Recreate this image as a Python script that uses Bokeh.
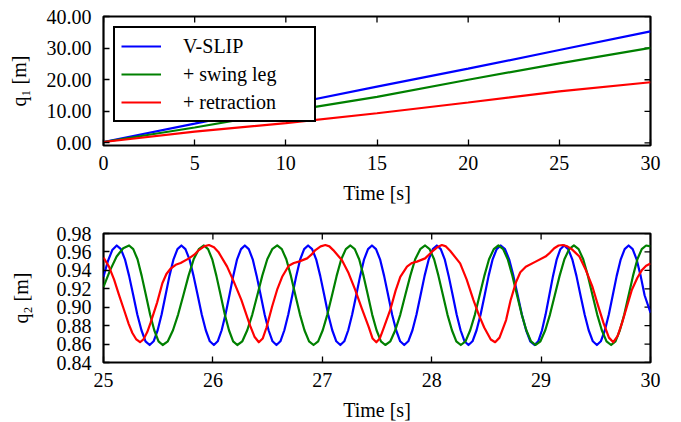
from math import pi
from bokeh.plotting import figure
from bokeh.models import FixedTicker, PrintfTickFormatter, Legend, LegendItem, Range1d
from bokeh.layouts import column
from bokeh.embed import file_html
from bokeh.resources import INLINE

# ---------------- data: top panel (q1 vs time) ----------------
t_top = [0, 5, 10, 15, 20, 25, 30]
q1_vslip = [0.3, 6.1, 12.0, 17.8, 23.5, 29.4, 35.3]
q1_swing = [0.3, 4.9, 9.9, 14.6, 20.0, 25.2, 30.1]
q1_retr = [0.3, 3.6, 6.3, 9.4, 12.8, 16.3, 19.2]

# ---------------- data: bottom panel (q2 vs time, 25..30 s) ----------------
t_vslip = [25.000, 25.040, 25.080, 25.121,
           25.159, 25.196, 25.234, 25.272, 25.309, 25.347, 25.384, 25.422,
           25.458, 25.495, 25.531, 25.567, 25.603, 25.640, 25.676, 25.712,
           25.749, 25.786, 25.823, 25.861, 25.898, 25.935, 25.972, 26.009,
           26.044, 26.080, 26.115, 26.151, 26.186, 26.221, 26.257, 26.292,
           26.328, 26.364, 26.400, 26.437, 26.473, 26.509, 26.545, 26.581,
           26.617, 26.653, 26.689, 26.726, 26.762, 26.798, 26.834, 26.870,
           26.907, 26.944, 26.981, 27.018, 27.054, 27.091, 27.128, 27.165,
           27.201, 27.237, 27.273, 27.310, 27.346, 27.382, 27.418, 27.454,
           27.491, 27.528, 27.565, 27.602, 27.638, 27.675, 27.712, 27.749,
           27.786, 27.824, 27.861, 27.898, 27.935, 27.973, 28.010, 28.047,
           28.083, 28.119, 28.155, 28.192, 28.228, 28.264, 28.300, 28.336,
           28.373, 28.410, 28.447, 28.484, 28.520, 28.557, 28.594, 28.631,
           28.670, 28.708, 28.747, 28.786, 28.824, 28.863, 28.901, 28.940,
           28.974, 29.008, 29.041, 29.075, 29.109, 29.143, 29.176, 29.210,
           29.248, 29.285, 29.323, 29.360, 29.398, 29.435, 29.473, 29.510,
           29.546, 29.583, 29.619, 29.655, 29.691, 29.728, 29.764, 29.800,
           29.837, 29.873, 29.910, 29.946, 30.000]
q2_vslip = [0.933, 0.950, 0.962, 0.967,
            0.963, 0.952, 0.934, 0.913, 0.892, 0.875, 0.863, 0.859,
            0.863, 0.875, 0.892, 0.913, 0.934, 0.952, 0.963, 0.967,
            0.963, 0.952, 0.934, 0.913, 0.892, 0.875, 0.863, 0.859,
            0.863, 0.875, 0.892, 0.913, 0.934, 0.952, 0.963, 0.967,
            0.963, 0.952, 0.934, 0.913, 0.892, 0.875, 0.863, 0.859,
            0.863, 0.875, 0.892, 0.913, 0.934, 0.952, 0.963, 0.967,
            0.963, 0.952, 0.934, 0.913, 0.892, 0.875, 0.863, 0.859,
            0.863, 0.875, 0.892, 0.913, 0.934, 0.952, 0.963, 0.967,
            0.963, 0.952, 0.934, 0.913, 0.892, 0.875, 0.863, 0.859,
            0.863, 0.875, 0.892, 0.913, 0.934, 0.952, 0.963, 0.967,
            0.963, 0.952, 0.934, 0.913, 0.892, 0.875, 0.863, 0.859,
            0.863, 0.875, 0.892, 0.913, 0.934, 0.952, 0.963, 0.967,
            0.963, 0.952, 0.934, 0.913, 0.892, 0.875, 0.863, 0.859,
            0.863, 0.875, 0.892, 0.913, 0.934, 0.952, 0.963, 0.967,
            0.963, 0.952, 0.934, 0.913, 0.892, 0.875, 0.863, 0.859,
            0.863, 0.875, 0.892, 0.913, 0.934, 0.952, 0.963, 0.967,
            0.963, 0.952, 0.934, 0.913, 0.894]

t_swing = [25.000, 25.060, 25.120, 25.180, 25.234,
           25.272, 25.311, 25.349, 25.388, 25.426, 25.464, 25.503, 25.541,
           25.588, 25.635, 25.682, 25.730, 25.777, 25.824, 25.871, 25.918,
           25.956, 25.994, 26.032, 26.071, 26.109, 26.147, 26.185, 26.223,
           26.269, 26.314, 26.360, 26.406, 26.451, 26.497, 26.542, 26.588,
           26.630, 26.671, 26.713, 26.754, 26.796, 26.837, 26.879, 26.920,
           26.962, 27.004, 27.046, 27.089, 27.131, 27.173, 27.215, 27.257,
           27.297, 27.337, 27.377, 27.417, 27.456, 27.496, 27.536, 27.576,
           27.622, 27.667, 27.713, 27.758, 27.804, 27.849, 27.895, 27.940,
           27.981, 28.022, 28.062, 28.103, 28.144, 28.185, 28.225, 28.266,
           28.309, 28.352, 28.395, 28.438, 28.481, 28.524, 28.567, 28.610,
           28.653, 28.695, 28.738, 28.780, 28.823, 28.865, 28.908, 28.950,
           28.994, 29.038, 29.081, 29.125, 29.169, 29.213, 29.256, 29.300,
           29.343, 29.385, 29.428, 29.470, 29.513, 29.555, 29.598, 29.640,
           29.680, 29.720, 29.760, 29.800, 29.840, 29.880, 29.920, 29.960,
           30.000]
q2_swing = [0.922, 0.940, 0.955, 0.964, 0.967,
            0.963, 0.952, 0.934, 0.913, 0.892, 0.875, 0.863, 0.859,
            0.863, 0.875, 0.892, 0.913, 0.934, 0.952, 0.963, 0.967,
            0.963, 0.952, 0.934, 0.913, 0.892, 0.875, 0.863, 0.859,
            0.863, 0.875, 0.892, 0.913, 0.934, 0.952, 0.963, 0.967,
            0.963, 0.952, 0.934, 0.913, 0.892, 0.875, 0.863, 0.859,
            0.863, 0.875, 0.892, 0.913, 0.934, 0.952, 0.963, 0.967,
            0.963, 0.952, 0.934, 0.913, 0.892, 0.875, 0.863, 0.859,
            0.863, 0.875, 0.892, 0.913, 0.934, 0.952, 0.963, 0.967,
            0.963, 0.952, 0.934, 0.913, 0.892, 0.875, 0.863, 0.859,
            0.863, 0.875, 0.892, 0.913, 0.934, 0.952, 0.963, 0.967,
            0.963, 0.952, 0.934, 0.913, 0.892, 0.875, 0.863, 0.859,
            0.863, 0.875, 0.892, 0.913, 0.934, 0.952, 0.963, 0.967,
            0.963, 0.952, 0.934, 0.913, 0.892, 0.875, 0.863, 0.859,
            0.863, 0.875, 0.892, 0.913, 0.934, 0.952, 0.963, 0.967,
            0.966]

t_retr = [25.000, 25.050, 25.097, 25.140, 25.188, 25.230, 25.264, 25.300, 25.334,
          25.365, 25.400, 25.430, 25.490, 25.538, 25.575, 25.614, 25.660, 25.705,
          25.781, 25.830, 25.872, 25.920, 25.964, 26.010, 26.050, 26.130, 26.190,
          26.260, 26.340, 26.380, 26.420, 26.455, 26.490, 26.542, 26.590, 26.633,
          26.693, 26.740, 26.785, 26.861, 26.900, 26.937, 26.985, 27.028, 27.065,
          27.100, 27.180, 27.240, 27.300, 27.360, 27.423, 27.460, 27.494, 27.525,
          27.560, 27.621, 27.670, 27.713, 27.774, 27.820, 27.865, 27.940, 28.000,
          28.050, 28.093, 28.130, 28.170, 28.260, 28.320, 28.381, 28.430, 28.480,
          28.540, 28.580, 28.620, 28.680, 28.720, 28.770, 28.810, 28.860, 28.950,
          29.040, 29.080, 29.120, 29.160, 29.200, 29.240, 29.280, 29.350, 29.410,
          29.470, 29.520, 29.570, 29.620, 29.660, 29.700, 29.740, 29.790, 29.830,
          29.880, 29.920, 29.960, 30.000]
q2_retr = [0.954, 0.944, 0.930, 0.914, 0.897, 0.882, 0.872, 0.865, 0.862,
           0.865, 0.873, 0.883, 0.905, 0.926, 0.936, 0.942, 0.946, 0.948,
           0.953, 0.957, 0.962, 0.966, 0.9675, 0.965, 0.960, 0.944, 0.928,
           0.908, 0.880, 0.868, 0.862, 0.866, 0.878, 0.901, 0.920, 0.933,
           0.945, 0.948, 0.9495, 0.953, 0.957, 0.962, 0.966, 0.9675, 0.966,
           0.962, 0.951, 0.937, 0.919, 0.899, 0.879, 0.866, 0.862, 0.866,
           0.877, 0.897, 0.918, 0.933, 0.944, 0.948, 0.9495, 0.953, 0.960,
           0.965, 0.9675, 0.966, 0.961, 0.9476, 0.930, 0.908, 0.892, 0.878,
           0.865, 0.862, 0.867, 0.886, 0.907, 0.927, 0.938, 0.944, 0.9495,
           0.955, 0.959, 0.964, 0.967, 0.9675, 0.966, 0.963, 0.955, 0.940,
           0.922, 0.902, 0.883, 0.867, 0.862, 0.869, 0.883, 0.903, 0.919,
           0.932, 0.940, 0.945, 0.9475]

labels = ["V-SLIP", "+ swing leg", "+ retraction"]
colors = ["#0000ff", "#008000", "#ff0000"]

x_ticks_top = [0, 5, 10, 15, 20, 25, 30]
y_ticks_top = [0, 10, 20, 30, 40]
x_ticks_bot = [25, 26, 27, 28, 29, 30]
y_ticks_bot = [0.84, 0.86, 0.88, 0.90, 0.92, 0.94, 0.96, 0.98]

FONT = "Liberation Serif"
FS = "20px"
LW = 2.2


def style_axis(ax, ticks):
    ax.ticker = FixedTicker(ticks=ticks)
    ax.major_tick_in = 6
    ax.major_tick_out = 0
    ax.major_tick_line_width = 1.3
    ax.major_tick_line_color = "black"
    ax.minor_tick_line_color = None
    ax.axis_line_color = None
    ax.major_label_text_font = FONT
    ax.major_label_text_font_size = FS
    ax.major_label_text_color = "black"
    ax.axis_label_text_font = FONT
    ax.axis_label_text_font_size = FS
    ax.axis_label_text_font_style = "normal"
    ax.axis_label_text_color = "black"


def make_fig(xr, yr, mt, mb, xticks, yticks, ylabel, ystand):
    p = figure(x_range=Range1d(*xr), y_range=Range1d(*yr),
               frame_width=547, frame_height=129,
               min_border_left=103, min_border_right=25,
               min_border_top=mt, min_border_bottom=mb,
               toolbar_location=None, output_backend="svg")
    p.grid.visible = False
    p.outline_line_color = "black"
    p.outline_line_width = 2.2
    p.background_fill_color = "white"
    p.border_fill_color = "white"
    style_axis(p.xaxis[0], xticks)
    style_axis(p.yaxis[0], yticks)
    p.xaxis[0].axis_label = "Time [s]"
    p.xaxis[0].major_label_standoff = 10
    p.xaxis[0].axis_label_standoff = 9
    p.yaxis[0].axis_label = ylabel
    p.yaxis[0].formatter = PrintfTickFormatter(format="%.2f")
    p.yaxis[0].major_label_standoff = 12
    p.yaxis[0].axis_label_standoff = ystand
    # mirrored inward ticks on the top and right edges (clipped to the frame)
    p.scatter(x=xticks, y=[yr[1]] * len(xticks), marker="dash", size=12,
              angle=pi / 2, line_color="black", line_width=1.3)
    p.scatter(x=[xr[1]] * len(yticks), y=yticks, marker="dash", size=12,
              line_color="black", line_width=1.3)
    return p


p1 = make_fig((0, 30), (-0.8, 40), 16, 60, x_ticks_top, y_ticks_top, "q\u2081 [m]", 14)
r1 = p1.line(t_top, q1_vslip, line_color=colors[0], line_width=LW)
r2 = p1.line(t_top, q1_swing, line_color=colors[1], line_width=LW)
r3 = p1.line(t_top, q1_retr, line_color=colors[2], line_width=LW)

legend = Legend(items=[LegendItem(label=labels[0], renderers=[r1]),
                       LegendItem(label=labels[1], renderers=[r2]),
                       LegendItem(label=labels[2], renderers=[r3])],
                location="top_left")
legend.margin = 10
legend.padding = 6
legend.spacing = 4
legend.label_height = 24
legend.glyph_height = 24
legend.glyph_width = 40
legend.label_standoff = 22
legend.label_width = 125
legend.label_text_font = FONT
legend.label_text_font_size = FS
legend.label_text_color = "black"
legend.border_line_color = "black"
legend.border_line_width = 2
legend.border_line_alpha = 1
legend.background_fill_color = "white"
legend.background_fill_alpha = 1
p1.add_layout(legend)

p2 = make_fig((25, 30), (0.84, 0.98), 27, 53, x_ticks_bot, y_ticks_bot, "q\u2082 [m]", 22)
for tt, qq, cc in zip([t_vslip, t_swing, t_retr], [q2_vslip, q2_swing, q2_retr], colors):
    p2.line(tt, qq, line_color=cc, line_width=LW, line_join="round")

layout = column(p1, p2, spacing=0)
open("out.html", "w").write(file_html(layout, INLINE))
